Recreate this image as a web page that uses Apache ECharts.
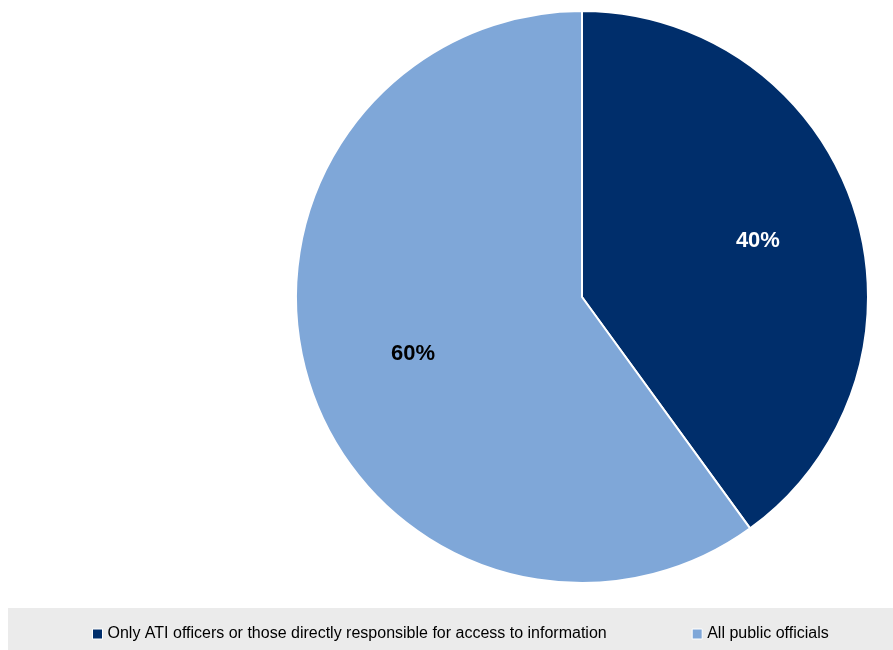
<!DOCTYPE html>
<html>
<head>
<meta charset="utf-8">
<script src="https://cdn.jsdelivr.net/npm/echarts@6/dist/echarts.min.js"></script>
<style>
  html, body { margin: 0; padding: 0; background: #ffffff; }
  #chart { width: 893px; height: 650px; }
</style>
</head>
<body>
<div id="chart"></div>
<script>
const categories = [
  'Only ATI officers or those directly responsible for access to information',
  'All public officials'
];
const shares = [40, 60];
const colors = ['#002e6b', '#7fa7d8'];
const labelColors = ['#ffffff', '#000000'];
const labelOffsets = [[-1, 1], [8, -1]];

const slices = categories.map((name, i) => ({ name, value: shares[i] }));

const chart = echarts.init(document.getElementById('chart'), null, { renderer: 'canvas' });
chart.setOption({
  animation: false,
  color: colors,
  graphic: [{
    type: 'rect',
    left: 8, top: 608,
    shape: { width: 885, height: 42 },
    style: { fill: '#ebebeb' },
    silent: true
  }],
  legend: {
    top: 621,
    left: 87,
    itemGap: 85,
    icon: 'rect',
    itemWidth: 10,
    itemHeight: 10,
    itemStyle: { borderColor: '#ffffff', borderWidth: 1 },
    textStyle: {
      fontFamily: '"Liberation Sans", Arial, sans-serif',
      fontSize: 16,
      color: '#000000'
    },
    data: categories
  },
  series: [
    {
      type: 'pie',
      center: [582, 297],
      radius: 286,
      startAngle: 90,
      clockwise: true,
      itemStyle: { borderColor: '#ffffff', borderWidth: 2 },
      label: { show: false },
      labelLine: { show: false },
      emphasis: { disabled: true },
      data: slices
    },
    {
      // transparent ring that places the percentage labels further out
      type: 'pie',
      center: [582, 297],
      radius: 366,
      startAngle: 90,
      clockwise: true,
      silent: true,
      legendHoverLink: false,
      itemStyle: { color: 'rgba(0,0,0,0)', borderWidth: 0 },
      label: {
        show: true,
        position: 'inside',
        formatter: p => p.value + '%',
        fontFamily: '"Liberation Sans", Arial, sans-serif',
        fontWeight: 'bold',
        fontSize: 22
      },
      labelLine: { show: false },
      emphasis: { disabled: true },
      data: slices.map((d, i) => ({
        name: d.name,
        value: d.value,
        label: { color: labelColors[i], offset: labelOffsets[i] }
      }))
    }
  ]
});
</script>
</body>
</html>
